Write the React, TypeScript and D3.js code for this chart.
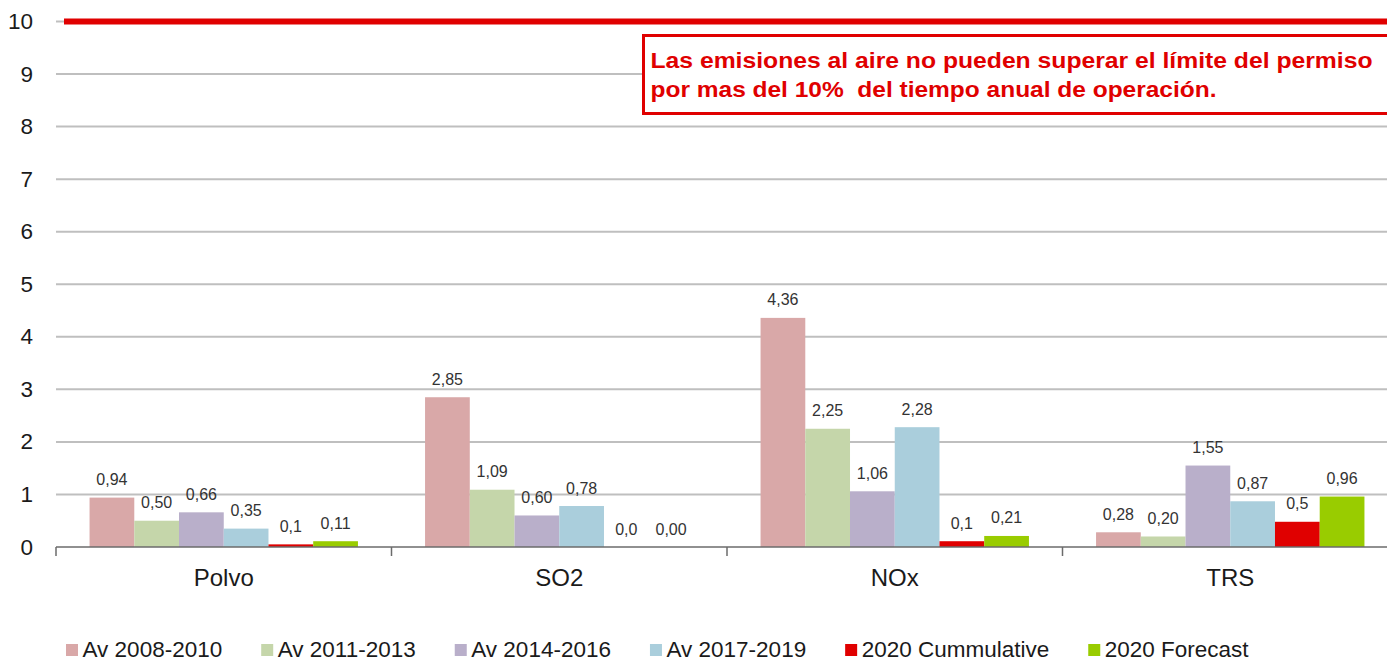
import React, { useEffect, useRef } from 'react';
import * as d3 from 'd3';

const categories = ['Polvo', 'SO2', 'NOx', 'TRS'];
const seriesNames = ['Av 2008-2010', 'Av 2011-2013', 'Av 2014-2016', 'Av 2017-2019', '2020 Cummulative', '2020 Forecast'];
const seriesColors = ['#D9A8A8', '#C5D6AA', '#B9AFCA', '#AACEDC', '#E00000', '#99CC00'];
const av0810 = [0.94, 2.85, 4.36, 0.28];
const av1113 = [0.5, 1.09, 2.25, 0.2];
const av1416 = [0.66, 0.6, 1.06, 1.55];
const av1719 = [0.35, 0.78, 2.28, 0.87];
const cum2020 = [0.05, 0.0, 0.11, 0.48];
const fc2020 = [0.11, 0.0, 0.21, 0.96];
const seriesValues = [av0810, av1113, av1416, av1719, cum2020, fc2020];
const seriesDecimals = [2, 2, 2, 2, 1, 2];
const yTicks = [0, 1, 2, 3, 4, 5, 6, 7, 8, 9, 10];
const limitValue = 10;
const noteLines = [
  'Las emisiones al aire no pueden superar el límite del permiso',
  'por mas del 10%  del tiempo anual de operación.',
];

const W = 1387;
const H = 661;
const FONT = "'Liberation Sans', Arial, sans-serif";

export default function App() {
  const ref = useRef<SVGSVGElement>(null);

  useEffect(() => {
    const svg = d3.select(ref.current);
    svg.selectAll('*').remove();

    const x = d3.scaleBand<string>().domain(categories).range([56, 1398]).paddingInner(0).paddingOuter(0);
    const xs = d3.scaleBand<string>().domain(seriesNames).range([0, x.bandwidth()]).paddingInner(0).paddingOuter(0.75);
    const y = d3.scaleLinear().domain([0, 10]).range([547, 21.5]);

    // gridlines
    svg.append('g').selectAll('line').data(yTicks.filter((t) => t > 0)).join('line')
      .attr('x1', 56).attr('x2', 1398)
      .attr('y1', (d) => y(d)).attr('y2', (d) => y(d))
      .attr('stroke', '#BFBFBF').attr('stroke-width', 2);

    // y tick labels
    svg.append('g').selectAll('text').data(yTicks).join('text')
      .attr('x', 33).attr('y', (d) => y(d))
      .attr('text-anchor', 'end').attr('dominant-baseline', 'central')
      .attr('font-family', FONT).attr('font-size', 22.5).attr('fill', '#1a1a1a')
      .text((d) => String(d));

    // limit line
    svg.append('line')
      .attr('x1', 64).attr('x2', 1398)
      .attr('y1', y(limitValue)).attr('y2', y(limitValue))
      .attr('stroke', '#E00000').attr('stroke-width', 6);

    // bars
    const gCat = svg.append('g').selectAll('g').data(categories).join('g')
      .attr('transform', (c) => `translate(${x(c)},0)`);
    seriesNames.forEach((s, si) => {
      gCat.append('rect')
        .attr('x', xs(s)!)
        .attr('width', xs.bandwidth())
        .attr('y', (c, ci) => y(seriesValues[si][ci]))
        .attr('height', (c, ci) => y(0) - y(seriesValues[si][ci]))
        .attr('fill', seriesColors[si]);
      gCat.append('text')
        .attr('x', xs(s)! + xs.bandwidth() / 2)
        .attr('y', (c, ci) => y(seriesValues[si][ci]) - 12.5)
        .attr('text-anchor', 'middle')
        .attr('font-family', FONT).attr('font-size', 16).attr('fill', '#333')
        .text((c, ci) => seriesValues[si][ci].toFixed(seriesDecimals[si]).replace('.', ','));
    });

    // x axis
    svg.append('line').attr('x1', 56).attr('x2', 1398).attr('y1', y(0)).attr('y2', y(0))
      .attr('stroke', '#6b6b6b').attr('stroke-width', 1.5);
    svg.append('g').selectAll('line').data(categories).join('line')
      .attr('x1', (c) => x(c)!).attr('x2', (c) => x(c)!)
      .attr('y1', y(0)).attr('y2', y(0) + 9)
      .attr('stroke', '#6b6b6b').attr('stroke-width', 1.5);
    svg.append('g').selectAll('text').data(categories).join('text')
      .attr('x', (c) => x(c)! + x.bandwidth() / 2).attr('y', 585.5)
      .attr('text-anchor', 'middle')
      .attr('font-family', FONT).attr('font-size', 24).attr('fill', '#1a1a1a')
      .text((c) => c);

    // note box
    svg.append('rect').attr('x', 643.5).attr('y', 35.5).attr('width', 800).attr('height', 78)
      .attr('fill', '#fff').attr('stroke', '#E00000').attr('stroke-width', 3);
    const noteWidths = [722, 566];
    noteLines.forEach((line, i) => {
      svg.append('text')
        .attr('x', 650.5).attr('y', 67.5 + i * 29)
        .attr('font-family', FONT).attr('font-size', 22).attr('font-weight', 'bold')
        .attr('fill', '#E00000')
        .attr('textLength', noteWidths[i]).attr('lengthAdjust', 'spacingAndGlyphs')
        .style('white-space', 'pre')
        .text(line);
    });

    // legend
    const lg = svg.append('g');
    let cx = 66;
    seriesNames.forEach((s, si) => {
      lg.append('rect').attr('x', cx).attr('y', 644).attr('width', 12).attr('height', 12)
        .attr('fill', seriesColors[si]);
      const t = lg.append('text').attr('x', cx + 16.5).attr('y', 656.5)
        .attr('font-family', FONT).attr('font-size', 22.5).attr('fill', '#1a1a1a')
        .text(s);
      const w = (t.node() as SVGTextElement).getComputedTextLength();
      cx = cx + 16.5 + w + 39;
    });
  }, []);

  return (
    <svg ref={ref} width={W} height={H} style={{ position: 'absolute', left: 0, top: 0, background: '#fff' }} />
  );
}
